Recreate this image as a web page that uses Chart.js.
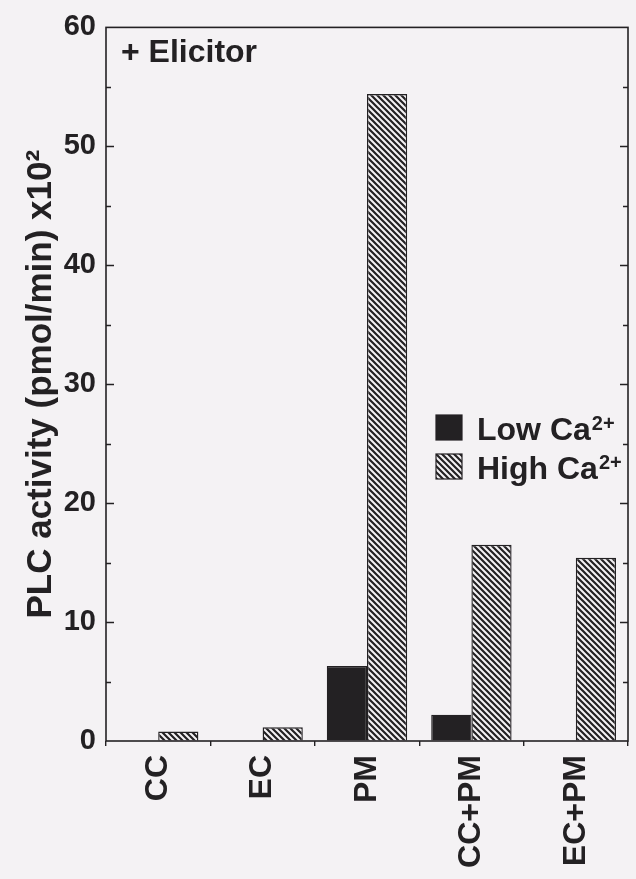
<!DOCTYPE html>
<html>
<head>
<meta charset="utf-8">
<script src="https://cdn.jsdelivr.net/npm/chart.js@4"></script>
<style>
  html, body { margin: 0; padding: 0; background: #f4f2f4; }
  #wrap { width: 636px; height: 879px; }
</style>
</head>
<body>
<div id="wrap"><canvas id="plc" width="636" height="879"></canvas></div>
<script>
'use strict';

// values (x10^2 pmol/min)
const categories = ['CC', 'EC', 'PM', 'CC+PM', 'EC+PM'];
const lowCa = [0, 0, 6.3, 2.2, 0];
const highCa = [0.8, 1.15, 54.4, 16.5, 15.4];
const yTicks = [0, 10, 20, 30, 40, 50, 60];
const seriesNames = ['Low Ca', 'High Ca']; // "2+" is drawn as superscript
const panelLabel = '+ Elicitor';
const yTitle = 'PLC activity (pmol/min) x10\u00B2';

const FONT = "'Liberation Sans', Arial, sans-serif";
const INK = '#232123';
const PAPER = '#f4f2f4';

const canvas = document.getElementById('plc');
const ctx = canvas.getContext('2d');

// diagonal "\\\" hatch used for the high Ca bars
function hatch() {
  const c = document.createElement('canvas');
  c.width = 6; c.height = 6;
  const g = c.getContext('2d');
  g.fillStyle = PAPER;
  g.fillRect(0, 0, 6, 6);
  g.strokeStyle = INK;
  g.lineWidth = 2.2;
  g.beginPath();
  g.moveTo(-1, -1); g.lineTo(7, 7);
  g.moveTo(-1, 5); g.lineTo(1, 7);
  g.moveTo(5, -1); g.lineTo(7, 1);
  g.stroke();
  return ctx.createPattern(c, 'repeat');
}
const hatchFill = hatch();

// frame, inward ticks, panel label and the legend
const extras = {
  id: 'extras',
  afterDatasetsDraw(chart) {
    const c = chart.ctx;
    const a = chart.chartArea;
    const y = chart.scales.y;
    c.save();
    c.strokeStyle = INK;
    c.lineWidth = 1.6;
    c.strokeRect(a.left, a.top, a.right - a.left, a.bottom - a.top);

    c.lineWidth = 1.4;
    c.beginPath();
    for (let v = 5; v < 60; v += 5) {
      const py = Math.round(y.getPixelForValue(v)) + 0.5;
      const len = v % 10 === 0 ? 8 : 5;
      c.moveTo(a.left, py); c.lineTo(a.left + len, py);
      c.moveTo(a.right, py); c.lineTo(a.right - len, py);
    }
    c.stroke();

    c.fillStyle = INK;
    c.textBaseline = 'alphabetic';
    c.font = 'bold 32px ' + FONT;
    c.fillText(panelLabel, a.left + 15, 62);

    // legend
    const fills = [INK, hatchFill];
    const rows = [440, 479];
    seriesNames.forEach((name, i) => {
      const by = rows[i];
      c.fillStyle = fills[i];
      c.fillRect(436, by - 25, 26, 25);
      c.strokeStyle = INK;
      c.lineWidth = 1.2;
      c.strokeRect(436, by - 25, 26, 25);
      c.fillStyle = INK;
      c.font = 'bold 32px ' + FONT;
      c.fillText(name, 477, by);
      const w = c.measureText(name).width;
      c.font = 'bold 20px ' + FONT;
      c.fillText('2+', 477 + w + 1, by - 10);
    });
    c.restore();
  }
};

new Chart(canvas, {
  type: 'bar',
  data: {
    labels: categories,
    datasets: [{
      label: 'Low Ca2+',
      data: lowCa,
      backgroundColor: INK,
      borderColor: INK,
      borderWidth: 1.2,
      categoryPercentage: 0.77,
      barPercentage: 1.0
    }, {
      label: 'High Ca2+',
      data: highCa,
      backgroundColor: hatchFill,
      borderColor: INK,
      borderWidth: 1.4,
      categoryPercentage: 0.77,
      barPercentage: 1.0
    }]
  },
  options: {
    responsive: false,
    animation: false,
    devicePixelRatio: 1,
    layout: { padding: { top: 20, right: 8, left: 0, bottom: 0 } },
    plugins: { legend: { display: false }, tooltip: { enabled: false } },
    scales: {
      x: {
        border: { display: false },
        grid: { display: true, offset: true, drawOnChartArea: false, drawTicks: true, tickLength: 5, color: INK, lineWidth: 1.4 },
        ticks: { color: INK, font: { family: FONT, size: 32, weight: 'bold' }, minRotation: 90, maxRotation: 90, padding: 9 },
        afterFit: s => { s.height = 138; }
      },
      y: {
        min: 0,
        max: 60,
        border: { display: false },
        grid: { drawOnChartArea: false, drawTicks: false },
        afterBuildTicks: s => { s.ticks = yTicks.map(v => ({ value: v })); },
        ticks: { color: INK, font: { family: FONT, size: 29, weight: 'bold' }, padding: 10 },
        title: { display: true, text: yTitle, color: INK, font: { family: FONT, size: 35, weight: 'bold' }, padding: { top: 20, bottom: 0 } },
        afterFit: s => { s.width = 106; }
      }
    }
  },
  plugins: [extras]
});
</script>
</body>
</html>
